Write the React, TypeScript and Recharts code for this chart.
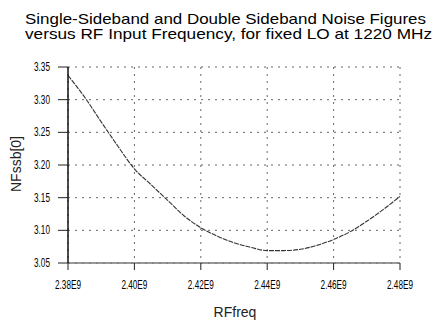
import { LineChart, Line, XAxis, YAxis, CartesianGrid } from 'recharts';

// RF input frequency (Hz) and single-sideband noise figure
const freqs = [
  2.38e9, 2.385e9, 2.39e9, 2.395e9, 2.4e9, 2.405e9, 2.41e9, 2.415e9, 2.42e9, 2.425e9, 2.43e9,
  2.435e9, 2.44e9, 2.445e9, 2.45e9, 2.455e9, 2.46e9, 2.465e9, 2.47e9, 2.475e9, 2.48e9,
];
const nfSsb = [
  3.337, 3.304, 3.266, 3.229, 3.194, 3.17, 3.146, 3.122, 3.104, 3.091, 3.081,
  3.074, 3.069, 3.069, 3.071, 3.077, 3.086, 3.098, 3.114, 3.132, 3.152,
];

const xMajorTicks = [2.38e9, 2.4e9, 2.42e9, 2.44e9, 2.46e9, 2.48e9];
const xMinorTicks = [2.39e9, 2.41e9, 2.43e9, 2.45e9, 2.47e9];
const yTicks = [3.05, 3.1, 3.15, 3.2, 3.25, 3.3, 3.35];

const titleLines = [
  'Single-Sideband and Double Sideband Noise Figures',
  'versus RF Input Frequency, for fixed LO at 1220 MHz',
];
const xLabel = 'RFfreq';
const yLabel = 'NFssb[0]';

const FONT = '"Liberation Sans", Arial, sans-serif';
const xDomain: [number, number] = [2.38e9, 2.48e9];
const yDomain: [number, number] = [3.05, 3.35];

const data = freqs.map((f, i) => ({ f, nf: nfSsb[i] }));

const fmtX = (v: number) => `${(v / 1e9).toFixed(2)}E9`;

function XTick(props: any) {
  const { x, y, payload } = props;
  return (
    <text x={x} y={y + 17} textAnchor="middle" fontFamily={FONT} fontSize={12.5} fill="#000"
      textLength={26} lengthAdjust="spacingAndGlyphs">
      {fmtX(payload.value)}
    </text>
  );
}

function YTick(props: any) {
  const { x, y, payload } = props;
  return (
    <text x={x} y={y + 4} textAnchor="end" fontFamily={FONT} fontSize={12} fill="#000"
      textLength={16} lengthAdjust="spacingAndGlyphs">
      {payload.value.toFixed(2)}
    </text>
  );
}

export default function App() {
  return (
    <div style={{ position: 'absolute', left: 0, top: 0, width: 434, height: 321, background: '#fff' }}>
      <LineChart width={434} height={321} data={data}
        margin={{ top: 67, right: 34, left: 8, bottom: 0 }}>
        <CartesianGrid stroke="#666" strokeDasharray="2 5" />
        <XAxis xAxisId="minor" dataKey="f" type="number" domain={xDomain} ticks={xMinorTicks}
          height={0} tick={false} axisLine={false} mirror tickSize={5}
          tickLine={{ stroke: '#222', strokeWidth: 1 }} />
        <XAxis dataKey="f" type="number" domain={xDomain} ticks={xMajorTicks} height={58}
          tickSize={7} tickMargin={2} tick={<XTick />} interval={0}
          axisLine={{ stroke: '#777', strokeWidth: 1.5 }} tickLine={{ stroke: '#222', strokeWidth: 1 }} />
        <XAxis xAxisId="top" orientation="top" dataKey="f" type="number" domain={xDomain}
          height={0} tick={false} tickLine={false} axisLine={{ stroke: '#111', strokeWidth: 1.5 }} />
        <YAxis type="number" domain={yDomain} ticks={yTicks} width={60} tickSize={10} tickMargin={8}
          tick={<YTick />} interval={0}
          axisLine={{ stroke: '#111', strokeWidth: 1.5 }} tickLine={{ stroke: '#222', strokeWidth: 1 }} />
        <YAxis yAxisId="right" orientation="right" type="number" domain={yDomain} width={0}
          tick={false} tickLine={false} axisLine={{ stroke: '#111', strokeWidth: 1.5 }} />
        <Line dataKey="nf" type="monotone" stroke="#333" strokeWidth={1.1} strokeDasharray="5 1"
          dot={false} isAnimationActive={false} />
      </LineChart>
      <svg width={434} height={321} style={{ position: 'absolute', left: 0, top: 0, pointerEvents: 'none' }}>
        <text x={225.5} y={23.5} textAnchor="middle" fontFamily={FONT} fontSize={15} fill="#000"
          textLength={401} lengthAdjust="spacingAndGlyphs">{titleLines[0]}</text>
        <text x={228.5} y={39} textAnchor="middle" fontFamily={FONT} fontSize={15} fill="#000"
          textLength={407} lengthAdjust="spacingAndGlyphs">{titleLines[1]}</text>
        <text x={235} y={317} textAnchor="middle" fontFamily={FONT} fontSize={14} fill="#222">{xLabel}</text>
        <text x={0} y={0} textAnchor="middle" fontFamily={FONT} fontSize={14} fill="#222"
          transform="translate(21 164) rotate(-90)">{yLabel}</text>
      </svg>
    </div>
  );
}
